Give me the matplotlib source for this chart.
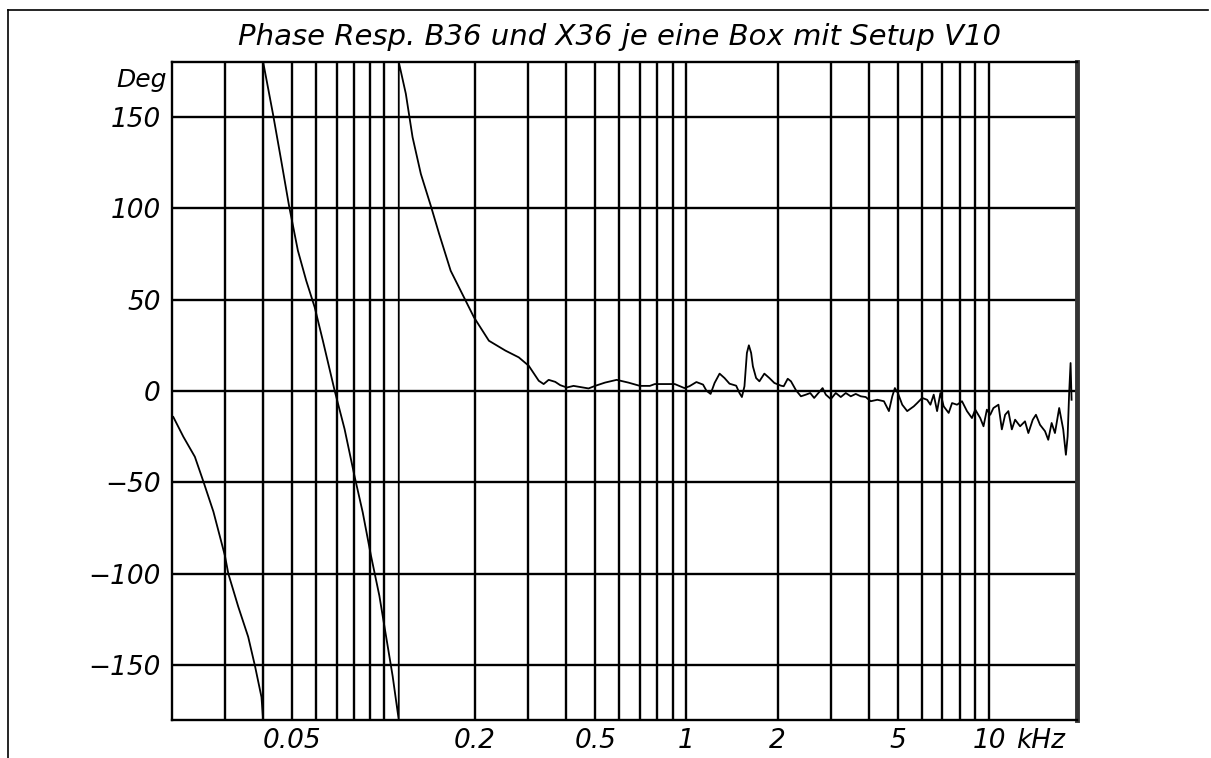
import matplotlib
matplotlib.use("Agg")
import matplotlib.pyplot as plt
from matplotlib.lines import Line2D

# ---------------- data ----------------
title = "Phase Resp. B36 und X36 je eine Box mit Setup V10"
y_label = "Deg"
x_unit = "kHz"

# frequency (kHz) and phase (deg), wrapped at +/-180 (vertical jumps kept)
freq_khz = [
    0.0202, 0.0218, 0.0238, 0.0254, 0.0274, 0.0299, 0.0307, 0.0331, 0.0357,
    0.0376, 0.0395, 0.0400,
    0.0400, 0.0431, 0.0459, 0.0487, 0.0521, 0.0555, 0.0592, 0.0630, 0.0689,
    0.0743, 0.0801, 0.0853, 0.0908, 0.0968, 0.1018, 0.1071, 0.1122,
    0.1122, 0.1184, 0.1246, 0.1327, 0.1431, 0.1525, 0.1665, 0.1842, 0.1988,
    0.2227, 0.2525, 0.2795, 0.3015, 0.3253, 0.3377, 0.3508, 0.3688, 0.3830,
    0.4029, 0.4238, 0.4571, 0.4750, 0.4994, 0.5385, 0.5884, 0.6431, 0.7023,
    0.7573, 0.7865, 0.9152,
    0.985, 1.023, 1.079, 1.135, 1.164, 1.202, 1.239, 1.287, 1.336, 1.388,
    1.460, 1.497, 1.525, 1.555, 1.584, 1.608, 1.636, 1.658, 1.699, 1.742,
    1.809, 1.879, 1.952, 2.053, 2.096, 2.161, 2.215, 2.301, 2.389, 2.481,
    2.564, 2.642, 2.712, 2.817, 2.887, 2.999, 3.114, 3.235, 3.360, 3.490,
    3.625, 3.765, 3.910, 4.061, 4.272, 4.491, 4.665, 4.786, 4.881, 4.993,
    5.162, 5.361, 5.636, 5.783, 6.006, 6.238, 6.396, 6.558, 6.729, 6.900,
    7.075, 7.348, 7.540, 7.831, 8.133, 8.446, 8.772, 8.995, 9.342, 9.577,
    9.826, 10.08, 10.33, 10.73, 11.01, 11.29, 11.57, 11.88, 12.18, 12.65,
    13.13, 13.47, 13.93, 14.27, 14.72, 15.29, 15.67, 16.08, 16.49, 17.03,
    17.56, 17.92, 18.16, 18.37, 18.57, 18.71,
]
phase_deg = [
    -14.2, -25.0, -36.0, -49.6, -66.0, -90.0, -100.0, -118.0, -134.5,
    -150.5, -167.5, -180.0,
    180.0, 151.6, 126.0, 101.4, 76.8, 60.4, 45.8, 27.5, 0.2,
    -20.8, -46.4, -66.4, -90.0, -112.0, -134.0, -156.0, -180.0,
    180.0, 162.6, 138.9, 118.8, 101.4, 86.0, 65.8, 51.3, 40.3,
    27.5, 22.1, 18.4, 13.8, 5.6, 3.8, 6.1, 5.0, 3.2,
    1.9, 2.8, 1.9, 1.4, 2.8, 4.6, 6.1, 4.6, 2.8,
    2.8, 3.8, 3.8,
    1.6, 2.6, 4.9, 3.5, 0.2, -1.6, 4.4, 9.5, 7.1, 4.0,
    2.9, -1.1, -3.3, 2.6, 20.8, 25.0, 20.8, 13.5, 7.1, 5.3,
    9.5, 7.1, 4.4, 2.9, 2.6, 6.7, 5.3, 0.4, -2.9, -2.0,
    -1.1, -3.8, -1.6, 1.6, -2.0, -4.4, -1.1, -3.3, -1.1, -2.9,
    -1.6, -2.9, -3.3, -5.6, -4.8, -5.6, -11.0, -2.9, 1.6, -1.1,
    -7.5, -11.0, -8.4, -6.6, -3.8, -4.8, -7.5, -2.0, -11.0, -1.1,
    -8.4, -12.0, -6.6, -7.5, -5.6, -11.0, -14.8, -10.2, -14.8, -19.3,
    -10.2, -13.0, -9.3, -7.5, -21.0, -13.0, -11.0, -21.0, -15.7, -19.3,
    -16.6, -23.0, -15.7, -13.0, -18.5, -22.0, -26.7, -17.5, -23.0, -9.3,
    -21.0, -34.9, -24.8, -1.1, 15.3, -4.8,
]

grid_freqs = [0.03, 0.04, 0.05, 0.06, 0.07, 0.08, 0.09, 0.1,
              0.2, 0.3, 0.4, 0.5, 0.6, 0.7, 0.8, 0.9, 1,
              2, 3, 4, 5, 6, 7, 8, 9, 10]
x_tick_vals = [0.05, 0.2, 0.5, 1, 2, 5, 10]
x_tick_labels = ["0.05", "0.2", "0.5", "1", "2", "5", "10"]
y_ticks = [-150, -100, -50, 0, 50, 100, 150]
y_tick_labels = ["\u2212150", "\u2212100", "\u221250", "0", "50", "100", "150"]

# ---------------- plot ----------------
W, H = 1211, 758
fig = plt.figure(figsize=(W / 100, H / 100), dpi=100)
ax = fig.add_axes([172 / W, 1 - 720 / H, (1077 - 172) / W, (720 - 62) / H])

font = dict(family="DejaVu Sans", style="oblique")

ax.set_xscale("log")
ax.set_xlim(0.02, 19.5)
ax.set_ylim(-180, 180)

for f in grid_freqs:
    ax.axvline(f, color="black", lw=1.7, zorder=1)
for yv in y_ticks:
    ax.axhline(yv, color="black", lw=1.7, zorder=1)

ax.plot(freq_khz, phase_deg, color="black", lw=1.3, zorder=3)

ax.xaxis.set_minor_locator(matplotlib.ticker.NullLocator())
ax.set_xticks(x_tick_vals)
ax.set_xticklabels(x_tick_labels, fontsize=19, **font)
ax.set_yticks(y_ticks)
ax.set_yticklabels(y_tick_labels, fontsize=19, **font)
ax.tick_params(axis="both", length=0)
ax.tick_params(axis="x", pad=6)
ax.tick_params(axis="y", pad=8)

for s in ["left", "top", "bottom"]:
    ax.spines[s].set_linewidth(1.7)
ax.spines["right"].set_linewidth(3.5)
ax.spines["right"].set_color("#333333")

fig.text(1016 / W, 1 - 741 / H, x_unit, ha="left", va="center",
         fontsize=19, **font)
fig.text(167 / W, 1 - 80 / H, y_label, ha="right", va="center",
         fontsize=18, **font)
fig.text(620 / W, 1 - 37 / H, title, ha="center", va="center",
         fontsize=21, **font)

# outer frame (partial, as in the scan)
fig.add_artist(Line2D([8 / W, 1208 / W], [1 - 10 / H, 1 - 10 / H],
                      transform=fig.transFigure, color="black", lw=1.2))
fig.add_artist(Line2D([8 / W, 8 / W], [1 - 10 / H, 0], transform=fig.transFigure,
                      color="black", lw=1.2))

fig.savefig("out.png", dpi=100, facecolor="white")
